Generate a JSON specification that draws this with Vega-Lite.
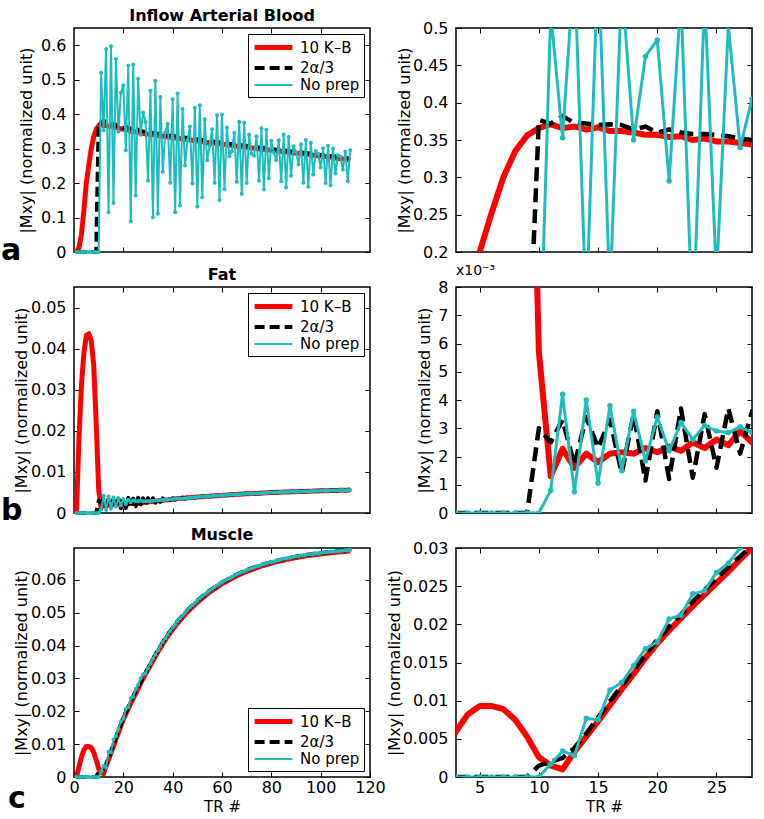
{
"$schema": "https://vega.github.io/schema/vega-lite/v6.json",
"background": "white",
"padding": {"left": 0, "top": 6, "right": 4, "bottom": 2},
"config": {
  "font": "DejaVu Sans",
  "view": {"stroke": "black", "strokeWidth": 1.5},
  "axis": {"grid": false, "domain": false, "ticks": true, "tickSize": -5, "tickColor": "black", "tickWidth": 1, "labelFont": "DejaVu Sans", "labelFontSize": 16, "labelColor": "black", "labelPadding": 13, "labelFlush": false, "labelOverlap": false, "format": "~g", "titleFont": "DejaVu Sans", "titleFontSize": 16, "titleFontWeight": "normal", "titleColor": "black", "titlePadding": 1},
  "title": {"font": "DejaVu Sans", "fontSize": 16, "fontWeight": "bold", "color": "black", "offset": 4, "frame": "group"},
  "legend": {"title": null, "strokeColor": "black", "fillColor": "white", "padding": 4, "offset": 6, "labelFont": "DejaVu Sans", "labelFontSize": 15, "labelColor": "black", "symbolType": "M-2.7,0H2.7", "symbolSize": 196, "symbolOffset": 12, "labelOffset": 17, "rowPadding": 1, "cornerRadius": 0}
},
"datasets": {
"blood": [
{"t":1,"s":"A","v":0},{"t":2,"s":"A","v":0.012},{"t":3,"s":"A","v":0.05},{"t":4,"s":"A","v":0.12},{"t":5,"s":"A","v":0.2},{"t":6,"s":"A","v":0.252},{"t":7,"s":"A","v":0.3},{"t":8,"s":"A","v":0.335},{"t":9,"s":"A","v":0.356},{"t":10,"s":"A","v":0.366},{"t":11,"s":"A","v":0.371},{"t":12,"s":"A","v":0.366},{"t":13,"s":"A","v":0.368},{"t":14,"s":"A","v":0.364},{"t":15,"s":"A","v":0.367},{"t":16,"s":"A","v":0.362},{"t":17,"s":"A","v":0.362},{"t":18,"s":"A","v":0.36},{"t":19,"s":"A","v":0.357},{"t":20,"s":"A","v":0.357},{"t":21,"s":"A","v":0.354},{"t":22,"s":"A","v":0.355},{"t":23,"s":"A","v":0.35},{"t":24,"s":"A","v":0.352},{"t":25,"s":"A","v":0.348},{"t":26,"s":"A","v":0.348},{"t":27,"s":"A","v":0.346},{"t":28,"s":"A","v":0.344},{"t":30,"s":"A","v":0.342},{"t":34,"s":"A","v":0.338},{"t":38,"s":"A","v":0.334},{"t":42,"s":"A","v":0.33},{"t":46,"s":"A","v":0.326},{"t":50,"s":"A","v":0.322},{"t":54,"s":"A","v":0.318},{"t":58,"s":"A","v":0.315},{"t":62,"s":"A","v":0.311},{"t":66,"s":"A","v":0.307},{"t":70,"s":"A","v":0.304},{"t":74,"s":"A","v":0.3},{"t":78,"s":"A","v":0.297},{"t":82,"s":"A","v":0.294},{"t":86,"s":"A","v":0.29},{"t":90,"s":"A","v":0.287},{"t":94,"s":"A","v":0.284},{"t":98,"s":"A","v":0.28},{"t":102,"s":"A","v":0.277},{"t":106,"s":"A","v":0.273},{"t":110,"s":"A","v":0.269},{"t":112,"s":"A","v":0.267},
{"t":1,"s":"B","v":0},{"t":9,"s":"B","v":0},{"t":10,"s":"B","v":0.377},{"t":11,"s":"B","v":0.372},{"t":12,"s":"B","v":0.382},{"t":13,"s":"B","v":0.373},{"t":14,"s":"B","v":0.372},{"t":15,"s":"B","v":0.37},{"t":16,"s":"B","v":0.371},{"t":17,"s":"B","v":0.37},{"t":18,"s":"B","v":0.364},{"t":19,"s":"B","v":0.368},{"t":20,"s":"B","v":0.36},{"t":21,"s":"B","v":0.364},{"t":22,"s":"B","v":0.36},{"t":23,"s":"B","v":0.358},{"t":24,"s":"B","v":0.358},{"t":25,"s":"B","v":0.357},{"t":26,"s":"B","v":0.355},{"t":27,"s":"B","v":0.352},{"t":28,"s":"B","v":0.35},{"t":30,"s":"B","v":0.348},{"t":34,"s":"B","v":0.343},{"t":38,"s":"B","v":0.339},{"t":42,"s":"B","v":0.335},{"t":46,"s":"B","v":0.331},{"t":50,"s":"B","v":0.327},{"t":54,"s":"B","v":0.323},{"t":58,"s":"B","v":0.319},{"t":62,"s":"B","v":0.315},{"t":66,"s":"B","v":0.311},{"t":70,"s":"B","v":0.308},{"t":74,"s":"B","v":0.304},{"t":78,"s":"B","v":0.301},{"t":82,"s":"B","v":0.297},{"t":86,"s":"B","v":0.294},{"t":90,"s":"B","v":0.29},{"t":94,"s":"B","v":0.287},{"t":98,"s":"B","v":0.284},{"t":102,"s":"B","v":0.28},{"t":106,"s":"B","v":0.277},{"t":110,"s":"B","v":0.273},{"t":112,"s":"B","v":0.271},
{"t":1,"s":"C","v":0},{"t":2,"s":"C","v":0},{"t":3,"s":"C","v":0},{"t":4,"s":"C","v":0},{"t":5,"s":"C","v":0},{"t":6,"s":"C","v":0},{"t":7,"s":"C","v":0},{"t":8,"s":"C","v":0},{"t":9,"s":"C","v":0},{"t":10,"s":"C","v":0},
{"t":11,"s":"C","v":0.52},{"t":12,"s":"C","v":0.353},{"t":13,"s":"C","v":0.589},{"t":14,"s":"C","v":0.115},{"t":15,"s":"C","v":0.597},{"t":16,"s":"C","v":0.142},{"t":17,"s":"C","v":0.56},{"t":18,"s":"C","v":0.35},{"t":19,"s":"C","v":0.462},{"t":20,"s":"C","v":0.484},{"t":21,"s":"C","v":0.295},{"t":22,"s":"C","v":0.541},{"t":23,"s":"C","v":0.089},{"t":24,"s":"C","v":0.544},{"t":25,"s":"C","v":0.164},{"t":26,"s":"C","v":0.503},{"t":27,"s":"C","v":0.34},{"t":28,"s":"C","v":0.405},{"t":29,"s":"C","v":0.377},{"t":30,"s":"C","v":0.207},
{"t":31,"s":"C","v":0.468},{"t":32,"s":"C","v":0.101},{"t":33,"s":"C","v":0.497},{"t":34,"s":"C","v":0.111},{"t":35,"s":"C","v":0.45},{"t":36,"s":"C","v":0.233},{"t":37,"s":"C","v":0.347},{"t":38,"s":"C","v":0.372},{"t":39,"s":"C","v":0.201},{"t":40,"s":"C","v":0.443},{"t":41,"s":"C","v":0.115},{"t":42,"s":"C","v":0.46},{"t":43,"s":"C","v":0.135},{"t":44,"s":"C","v":0.415},{"t":45,"s":"C","v":0.251},{"t":46,"s":"C","v":0.324},{"t":47,"s":"C","v":0.364},{"t":48,"s":"C","v":0.199},{"t":49,"s":"C","v":0.418},{"t":50,"s":"C","v":0.132},
{"t":51,"s":"C","v":0.426},{"t":52,"s":"C","v":0.159},{"t":53,"s":"C","v":0.385},{"t":54,"s":"C","v":0.266},{"t":55,"s":"C","v":0.308},{"t":56,"s":"C","v":0.356},{"t":57,"s":"C","v":0.201},{"t":58,"s":"C","v":0.397},{"t":59,"s":"C","v":0.151},{"t":60,"s":"C","v":0.399},{"t":61,"s":"C","v":0.182},{"t":62,"s":"C","v":0.361},{"t":63,"s":"C","v":0.278},{"t":64,"s":"C","v":0.292},{"t":65,"s":"C","v":0.346},{"t":66,"s":"C","v":0.204},{"t":67,"s":"C","v":0.378},{"t":68,"s":"C","v":0.168},{"t":69,"s":"C","v":0.376},{"t":70,"s":"C","v":0.2},
{"t":71,"s":"C","v":0.341},{"t":72,"s":"C","v":0.285},{"t":73,"s":"C","v":0.279},{"t":74,"s":"C","v":0.336},{"t":75,"s":"C","v":0.207},{"t":76,"s":"C","v":0.359},{"t":77,"s":"C","v":0.181},{"t":78,"s":"C","v":0.355},{"t":79,"s":"C","v":0.214},{"t":80,"s":"C","v":0.323},{"t":81,"s":"C","v":0.289},{"t":82,"s":"C","v":0.266},{"t":83,"s":"C","v":0.324},{"t":84,"s":"C","v":0.205},{"t":85,"s":"C","v":0.341},{"t":86,"s":"C","v":0.187},{"t":87,"s":"C","v":0.334},{"t":88,"s":"C","v":0.221},{"t":89,"s":"C","v":0.307},{"t":90,"s":"C","v":0.29},
{"t":91,"s":"C","v":0.254},{"t":92,"s":"C","v":0.313},{"t":93,"s":"C","v":0.201},{"t":94,"s":"C","v":0.325},{"t":95,"s":"C","v":0.189},{"t":96,"s":"C","v":0.317},{"t":97,"s":"C","v":0.225},{"t":98,"s":"C","v":0.293},{"t":99,"s":"C","v":0.284},{"t":100,"s":"C","v":0.245},{"t":101,"s":"C","v":0.301},{"t":102,"s":"C","v":0.2},{"t":103,"s":"C","v":0.308},{"t":104,"s":"C","v":0.194},{"t":105,"s":"C","v":0.3},{"t":106,"s":"C","v":0.228},{"t":107,"s":"C","v":0.281},{"t":108,"s":"C","v":0.277},{"t":109,"s":"C","v":0.239},{"t":110,"s":"C","v":0.291},{"t":111,"s":"C","v":0.205},{"t":112,"s":"C","v":0.295}
],
"fat": [
{"t":1,"s":"A","v":0},{"t":2,"s":"A","v":0.018},{"t":3,"s":"A","v":0.031},{"t":4,"s":"A","v":0.039},{"t":5,"s":"A","v":0.0433},{"t":6,"s":"A","v":0.0437},{"t":7,"s":"A","v":0.042},{"t":8,"s":"A","v":0.036},{"t":9,"s":"A","v":0.022},{"t":10,"s":"A","v":0.0057},{"t":11,"s":"A","v":0.0013},{"t":12,"s":"A","v":0.00227},{"t":13,"s":"A","v":0.0016},{"t":14,"s":"A","v":0.0021},{"t":15,"s":"A","v":0.0018},{"t":16,"s":"A","v":0.0021},{"t":17,"s":"A","v":0.00215},{"t":18,"s":"A","v":0.0021},{"t":19,"s":"A","v":0.0023},{"t":20,"s":"A","v":0.00215},{"t":21,"s":"A","v":0.00235},{"t":22,"s":"A","v":0.0022},{"t":23,"s":"A","v":0.0025},{"t":24,"s":"A","v":0.0023},{"t":25,"s":"A","v":0.0026},{"t":26,"s":"A","v":0.0024},{"t":27,"s":"A","v":0.0029},{"t":28,"s":"A","v":0.0025},{"t":30,"s":"A","v":0.0027},{"t":34,"s":"A","v":0.003},{"t":38,"s":"A","v":0.0032},{"t":42,"s":"A","v":0.0035},{"t":46,"s":"A","v":0.0037},{"t":50,"s":"A","v":0.0039},{"t":55,"s":"A","v":0.0041},{"t":60,"s":"A","v":0.0043},{"t":65,"s":"A","v":0.0045},{"t":70,"s":"A","v":0.0047},{"t":75,"s":"A","v":0.0048},{"t":80,"s":"A","v":0.005},{"t":85,"s":"A","v":0.0051},{"t":90,"s":"A","v":0.0052},{"t":95,"s":"A","v":0.0053},{"t":100,"s":"A","v":0.0054},{"t":106,"s":"A","v":0.0055},{"t":112,"s":"A","v":0.0056},
{"t":1,"s":"B","v":0},{"t":9,"s":"B","v":0},{"t":10,"s":"B","v":0.003},{"t":11,"s":"B","v":0.0025},{"t":12,"s":"B","v":0.0033},{"t":13,"s":"B","v":0.0017},{"t":14,"s":"B","v":0.0034},{"t":15,"s":"B","v":0.0023},{"t":16,"s":"B","v":0.0033},{"t":17,"s":"B","v":0.0014},{"t":18,"s":"B","v":0.0035},{"t":19,"s":"B","v":0.00115},{"t":20,"s":"B","v":0.0036},{"t":21,"s":"B","v":0.0012},{"t":22,"s":"B","v":0.0037},{"t":23,"s":"B","v":0.00125},{"t":24,"s":"B","v":0.0035},{"t":25,"s":"B","v":0.0016},{"t":26,"s":"B","v":0.0037},{"t":27,"s":"B","v":0.0021},{"t":28,"s":"B","v":0.0036},{"t":29,"s":"B","v":0.00205},{"t":30,"s":"B","v":0.0036},{"t":31,"s":"B","v":0.00224},{"t":32,"s":"B","v":0.00358},{"t":33,"s":"B","v":0.00252},{"t":34,"s":"B","v":0.00356},{"t":35,"s":"B","v":0.0027},{"t":36,"s":"B","v":0.00356},{"t":37,"s":"B","v":0.00292},{"t":38,"s":"B","v":0.00358},{"t":39,"s":"B","v":0.00314},{"t":40,"s":"B","v":0.0036},{"t":41,"s":"B","v":0.00324},{"t":42,"s":"B","v":0.00368},{"t":43,"s":"B","v":0.00332},{"t":44,"s":"B","v":0.00376},{"t":45,"s":"B","v":0.0035},{"t":46,"s":"B","v":0.00376},{"t":47,"s":"B","v":0.00362},{"t":48,"s":"B","v":0.00388},{"t":49,"s":"B","v":0.00374},{"t":50,"s":"B","v":0.0039},{"t":55,"s":"B","v":0.0041},{"t":60,"s":"B","v":0.0043},{"t":65,"s":"B","v":0.0045},{"t":70,"s":"B","v":0.0047},{"t":75,"s":"B","v":0.0048},{"t":80,"s":"B","v":0.005},{"t":85,"s":"B","v":0.0051},{"t":90,"s":"B","v":0.0052},{"t":95,"s":"B","v":0.0053},{"t":100,"s":"B","v":0.0054},{"t":106,"s":"B","v":0.0055},{"t":112,"s":"B","v":0.0056},
{"t":1,"s":"C","v":0},{"t":2,"s":"C","v":0},{"t":3,"s":"C","v":0},{"t":4,"s":"C","v":0},{"t":5,"s":"C","v":0},{"t":6,"s":"C","v":0},{"t":7,"s":"C","v":0},{"t":8,"s":"C","v":0},{"t":9,"s":"C","v":0},{"t":10,"s":"C","v":0},
{"t":11,"s":"C","v":0.0008},{"t":12,"s":"C","v":0.0042},{"t":13,"s":"C","v":0.00075},{"t":14,"s":"C","v":0.004},{"t":15,"s":"C","v":0.00105},{"t":16,"s":"C","v":0.0038},{"t":17,"s":"C","v":0.0015},{"t":18,"s":"C","v":0.0036},{"t":19,"s":"C","v":0.00185},{"t":20,"s":"C","v":0.0034},{"t":21,"s":"C","v":0.0022},{"t":22,"s":"C","v":0.0032},{"t":23,"s":"C","v":0.0026},{"t":24,"s":"C","v":0.0031},{"t":25,"s":"C","v":0.0029},{"t":26,"s":"C","v":0.00285},{"t":27,"s":"C","v":0.00305},{"t":28,"s":"C","v":0.00285},
{"t":29,"s":"C","v":0.00285},{"t":30,"s":"C","v":0.0029},{"t":31,"s":"C","v":0.00294},{"t":32,"s":"C","v":0.00298},{"t":33,"s":"C","v":0.00302},{"t":34,"s":"C","v":0.00306},{"t":35,"s":"C","v":0.0031},{"t":36,"s":"C","v":0.00316},{"t":37,"s":"C","v":0.00322},{"t":38,"s":"C","v":0.00328},{"t":39,"s":"C","v":0.00334},{"t":40,"s":"C","v":0.0034},{"t":41,"s":"C","v":0.00344},{"t":42,"s":"C","v":0.00348},{"t":43,"s":"C","v":0.00352},{"t":44,"s":"C","v":0.00356},{"t":45,"s":"C","v":0.0036},{"t":46,"s":"C","v":0.00366},{"t":47,"s":"C","v":0.00372},{"t":48,"s":"C","v":0.00378},{"t":49,"s":"C","v":0.00384},{"t":50,"s":"C","v":0.0039},
{"t":51,"s":"C","v":0.00394},{"t":52,"s":"C","v":0.00398},{"t":53,"s":"C","v":0.00402},{"t":54,"s":"C","v":0.00406},{"t":55,"s":"C","v":0.0041},{"t":56,"s":"C","v":0.00414},{"t":57,"s":"C","v":0.00418},{"t":58,"s":"C","v":0.00422},{"t":59,"s":"C","v":0.00426},{"t":60,"s":"C","v":0.0043},{"t":61,"s":"C","v":0.00434},{"t":62,"s":"C","v":0.00438},{"t":63,"s":"C","v":0.00442},{"t":64,"s":"C","v":0.00446},{"t":65,"s":"C","v":0.0045},{"t":66,"s":"C","v":0.00454},{"t":67,"s":"C","v":0.00458},{"t":68,"s":"C","v":0.00462},{"t":69,"s":"C","v":0.00466},{"t":70,"s":"C","v":0.0047},
{"t":71,"s":"C","v":0.00472},{"t":72,"s":"C","v":0.00474},{"t":73,"s":"C","v":0.00476},{"t":74,"s":"C","v":0.00478},{"t":75,"s":"C","v":0.0048},{"t":76,"s":"C","v":0.00484},{"t":77,"s":"C","v":0.00488},{"t":78,"s":"C","v":0.00492},{"t":79,"s":"C","v":0.00496},{"t":80,"s":"C","v":0.005},{"t":81,"s":"C","v":0.00502},{"t":82,"s":"C","v":0.00504},{"t":83,"s":"C","v":0.00506},{"t":84,"s":"C","v":0.00508},{"t":85,"s":"C","v":0.0051},{"t":86,"s":"C","v":0.00512},{"t":87,"s":"C","v":0.00514},{"t":88,"s":"C","v":0.00516},{"t":89,"s":"C","v":0.00518},{"t":90,"s":"C","v":0.0052},
{"t":91,"s":"C","v":0.00522},{"t":92,"s":"C","v":0.00524},{"t":93,"s":"C","v":0.00526},{"t":94,"s":"C","v":0.00528},{"t":95,"s":"C","v":0.0053},{"t":96,"s":"C","v":0.00532},{"t":97,"s":"C","v":0.00534},{"t":98,"s":"C","v":0.00536},{"t":99,"s":"C","v":0.00538},{"t":100,"s":"C","v":0.0054},{"t":101,"s":"C","v":0.00542},{"t":102,"s":"C","v":0.00543},{"t":103,"s":"C","v":0.00545},{"t":104,"s":"C","v":0.00547},{"t":105,"s":"C","v":0.00548},{"t":106,"s":"C","v":0.0055},{"t":107,"s":"C","v":0.00552},{"t":108,"s":"C","v":0.00553},{"t":109,"s":"C","v":0.00555},{"t":110,"s":"C","v":0.00557},{"t":111,"s":"C","v":0.00558},{"t":112,"s":"C","v":0.0056}
],
"muscle": [
{"t":1,"s":"A","v":0},{"t":2,"s":"A","v":0.003},{"t":3,"s":"A","v":0.006},{"t":4,"s":"A","v":0.0082},{"t":5,"s":"A","v":0.0093},{"t":6,"s":"A","v":0.0093},{"t":7,"s":"A","v":0.0089},{"t":8,"s":"A","v":0.0075},{"t":9,"s":"A","v":0.0053},{"t":10,"s":"A","v":0.0026},{"t":11,"s":"A","v":0.0015},{"t":12,"s":"A","v":0.001},{"t":13,"s":"A","v":0.0033},{"t":14,"s":"A","v":0.0053},{"t":15,"s":"A","v":0.0073},{"t":16,"s":"A","v":0.0094},{"t":17,"s":"A","v":0.0115},{"t":18,"s":"A","v":0.0135},{"t":19,"s":"A","v":0.0156},{"t":20,"s":"A","v":0.0175},{"t":21,"s":"A","v":0.0192},{"t":22,"s":"A","v":0.0208},{"t":23,"s":"A","v":0.0224},{"t":24,"s":"A","v":0.0239},{"t":25,"s":"A","v":0.0254},{"t":26,"s":"A","v":0.0269},{"t":27,"s":"A","v":0.0285},{"t":28,"s":"A","v":0.03},{"t":30,"s":"A","v":0.0327},{"t":34,"s":"A","v":0.0381},{"t":38,"s":"A","v":0.0429},{"t":42,"s":"A","v":0.0469},{"t":46,"s":"A","v":0.0503},{"t":50,"s":"A","v":0.0532},{"t":55,"s":"A","v":0.0563},{"t":60,"s":"A","v":0.0588},{"t":65,"s":"A","v":0.0609},{"t":70,"s":"A","v":0.0626},{"t":76,"s":"A","v":0.0642},{"t":82,"s":"A","v":0.0655},{"t":88,"s":"A","v":0.0665},{"t":94,"s":"A","v":0.0673},{"t":100,"s":"A","v":0.0679},{"t":106,"s":"A","v":0.0684},{"t":112,"s":"A","v":0.0688},
{"t":1,"s":"B","v":0},{"t":9,"s":"B","v":0},{"t":10,"s":"B","v":0.0015},{"t":11,"s":"B","v":0.002},{"t":12,"s":"B","v":0.0025},{"t":13,"s":"B","v":0.0038},{"t":14,"s":"B","v":0.0057},{"t":15,"s":"B","v":0.0078},{"t":16,"s":"B","v":0.0099},{"t":17,"s":"B","v":0.012},{"t":18,"s":"B","v":0.014},{"t":19,"s":"B","v":0.016},{"t":20,"s":"B","v":0.018},{"t":21,"s":"B","v":0.0197},{"t":22,"s":"B","v":0.0213},{"t":23,"s":"B","v":0.023},{"t":24,"s":"B","v":0.0245},{"t":25,"s":"B","v":0.026},{"t":26,"s":"B","v":0.0275},{"t":27,"s":"B","v":0.0289},{"t":28,"s":"B","v":0.0303},{"t":30,"s":"B","v":0.0331},{"t":34,"s":"B","v":0.0386},{"t":38,"s":"B","v":0.0434},{"t":42,"s":"B","v":0.0474},{"t":46,"s":"B","v":0.0508},{"t":50,"s":"B","v":0.0537},{"t":55,"s":"B","v":0.0568},{"t":60,"s":"B","v":0.0592},{"t":65,"s":"B","v":0.0613},{"t":70,"s":"B","v":0.063},{"t":76,"s":"B","v":0.0646},{"t":82,"s":"B","v":0.0658},{"t":88,"s":"B","v":0.0668},{"t":94,"s":"B","v":0.0676},{"t":100,"s":"B","v":0.0682},{"t":106,"s":"B","v":0.0687},{"t":112,"s":"B","v":0.0691},
{"t":1,"s":"C","v":0},{"t":2,"s":"C","v":0},{"t":3,"s":"C","v":0},{"t":4,"s":"C","v":0},{"t":5,"s":"C","v":0},{"t":6,"s":"C","v":0},{"t":7,"s":"C","v":0},{"t":8,"s":"C","v":0},{"t":9,"s":"C","v":0},{"t":10,"s":"C","v":0},
{"t":11,"s":"C","v":0.0017},{"t":12,"s":"C","v":0.0034},{"t":13,"s":"C","v":0.0028},{"t":14,"s":"C","v":0.0077},{"t":15,"s":"C","v":0.0075},{"t":16,"s":"C","v":0.0114},{"t":17,"s":"C","v":0.0124},{"t":18,"s":"C","v":0.0146},{"t":19,"s":"C","v":0.0168},{"t":20,"s":"C","v":0.0177},{"t":21,"s":"C","v":0.0207},{"t":22,"s":"C","v":0.0212},{"t":23,"s":"C","v":0.024},{"t":24,"s":"C","v":0.0244},{"t":25,"s":"C","v":0.0268},{"t":26,"s":"C","v":0.028},{"t":27,"s":"C","v":0.03},{"t":28,"s":"C","v":0.0312},
{"t":29,"s":"C","v":0.0316},{"t":30,"s":"C","v":0.0331},{"t":31,"s":"C","v":0.0346},{"t":32,"s":"C","v":0.036},{"t":33,"s":"C","v":0.0373},{"t":34,"s":"C","v":0.0386},{"t":35,"s":"C","v":0.0399},{"t":36,"s":"C","v":0.0411},{"t":37,"s":"C","v":0.0422},{"t":38,"s":"C","v":0.0434},{"t":39,"s":"C","v":0.0444},{"t":40,"s":"C","v":0.0454},{"t":41,"s":"C","v":0.0464},{"t":42,"s":"C","v":0.0474},{"t":43,"s":"C","v":0.0483},{"t":44,"s":"C","v":0.0491},{"t":45,"s":"C","v":0.05},{"t":46,"s":"C","v":0.0508},{"t":47,"s":"C","v":0.0516},{"t":48,"s":"C","v":0.0523},{"t":49,"s":"C","v":0.053},{"t":50,"s":"C","v":0.0537},
{"t":51,"s":"C","v":0.0544},{"t":52,"s":"C","v":0.055},{"t":53,"s":"C","v":0.0556},{"t":54,"s":"C","v":0.0562},{"t":55,"s":"C","v":0.0568},{"t":56,"s":"C","v":0.0573},{"t":57,"s":"C","v":0.0578},{"t":58,"s":"C","v":0.0583},{"t":59,"s":"C","v":0.0588},{"t":60,"s":"C","v":0.0592},{"t":61,"s":"C","v":0.0597},{"t":62,"s":"C","v":0.0601},{"t":63,"s":"C","v":0.0605},{"t":64,"s":"C","v":0.0609},{"t":65,"s":"C","v":0.0613},{"t":66,"s":"C","v":0.0616},{"t":67,"s":"C","v":0.062},{"t":68,"s":"C","v":0.0623},{"t":69,"s":"C","v":0.0626},{"t":70,"s":"C","v":0.063},
{"t":71,"s":"C","v":0.0632},{"t":72,"s":"C","v":0.0635},{"t":73,"s":"C","v":0.0638},{"t":74,"s":"C","v":0.0641},{"t":75,"s":"C","v":0.0643},{"t":76,"s":"C","v":0.0646},{"t":77,"s":"C","v":0.0648},{"t":78,"s":"C","v":0.065},{"t":79,"s":"C","v":0.0652},{"t":80,"s":"C","v":0.0654},{"t":81,"s":"C","v":0.0656},{"t":82,"s":"C","v":0.0658},{"t":83,"s":"C","v":0.066},{"t":84,"s":"C","v":0.0662},{"t":85,"s":"C","v":0.0664},{"t":86,"s":"C","v":0.0665},{"t":87,"s":"C","v":0.0667},{"t":88,"s":"C","v":0.0668},{"t":89,"s":"C","v":0.067},{"t":90,"s":"C","v":0.0671},
{"t":91,"s":"C","v":0.0672},{"t":92,"s":"C","v":0.0674},{"t":93,"s":"C","v":0.0675},{"t":94,"s":"C","v":0.0676},{"t":95,"s":"C","v":0.0677},{"t":96,"s":"C","v":0.0678},{"t":97,"s":"C","v":0.0679},{"t":98,"s":"C","v":0.068},{"t":99,"s":"C","v":0.0681},{"t":100,"s":"C","v":0.0682},{"t":101,"s":"C","v":0.0683},{"t":102,"s":"C","v":0.0684},{"t":103,"s":"C","v":0.0685},{"t":104,"s":"C","v":0.0686},{"t":105,"s":"C","v":0.0686},{"t":106,"s":"C","v":0.0687},{"t":107,"s":"C","v":0.0688},{"t":108,"s":"C","v":0.0688},{"t":109,"s":"C","v":0.0689},{"t":110,"s":"C","v":0.069},{"t":111,"s":"C","v":0.069},{"t":112,"s":"C","v":0.0691}
]
},
"columns": 2,
"spacing": {"row": 35, "column": 86},
"bounds": "flush",
"align": "each",
"resolve": {"scale": {"color": "independent", "strokeDash": "independent", "strokeWidth": "independent"}, "legend": {"color": "independent", "strokeDash": "independent", "strokeWidth": "independent"}},
"concat": [
{
 "width": 296, "height": 224,
 "data": {"name": "blood"},
 "title": {"text": "Inflow Arterial Blood"},
 "resolve": {"axis": {"x": "independent", "y": "independent"}},
 "layer": [
  {"mark": {"type": "line", "strokeJoin": "round"},
   "encoding": {
    "x": {"field": "t", "type": "quantitative", "scale": {"domain": [0, 120], "nice": false, "zero": false}, "axis": {"orient": "bottom", "values": [20,40,60,80,100], "labels": false, "title": null}},
    "y": {"field": "v", "type": "quantitative", "scale": {"domain": [0, 0.65], "nice": false}, "axis": {"orient": "left", "values": [0,0.1,0.2,0.3,0.4,0.5,0.6], "title": "|Mxy| (normalized unit)", "titlePadding": 6}},
    "color": {"field": "s", "type": "nominal", "scale": {"domain": ["A","B","C"], "range": ["#ff0000","#000000","#1fbcbc"]}, "legend": {"orient": "top-right", "labelExpr": "datum.label == 'A' ? '10 K–B' : datum.label == 'B' ? '2α/3' : 'No prep'"}},
    "strokeDash": {"field": "s", "type": "nominal", "scale": {"domain": ["A","B","C"], "range": [[1,0],[10,5],[1,0]]}, "legend": {"orient": "top-right", "labelExpr": "datum.label == 'A' ? '10 K–B' : datum.label == 'B' ? '2α/3' : 'No prep'"}},
    "strokeWidth": {"field": "s", "type": "nominal", "scale": {"type": "ordinal", "domain": ["A","B","C"], "range": [5,4,2]}, "legend": {"orient": "top-right", "labelExpr": "datum.label == 'A' ? '10 K–B' : datum.label == 'B' ? '2α/3' : 'No prep'"}}
   }},
  {"transform": [{"filter": "datum.s == 'C'"}], "mark": {"type": "point", "filled": true, "size": 16, "color": "#1fbcbc", "opacity": 1},
   "encoding": {"x": {"field": "t", "type": "quantitative", "axis": null}, "y": {"field": "v", "type": "quantitative", "axis": null}}},
  {"mark": {"type": "point", "opacity": 0},
   "encoding": {"x": {"field": "t", "type": "quantitative", "axis": {"orient": "top", "values": [20,40,60,80,100], "labels": false, "title": null}}, "y": {"field": "v", "type": "quantitative", "axis": {"orient": "right", "values": [0,0.1,0.2,0.3,0.4,0.5,0.6], "labels": false, "title": null}}}},
  {"data": {"values": [{"t": 0, "v": 0, "lab": "a"}]}, "mark": {"type": "text", "align": "left", "baseline": "alphabetic", "dx": -73, "dy": 8, "fontSize": 30, "fontWeight": "bold", "font": "DejaVu Sans", "color": "black"},
   "encoding": {"x": {"field": "t", "type": "quantitative", "axis": null}, "y": {"field": "v", "type": "quantitative", "axis": null}, "text": {"field": "lab"}}}
 ]
},
{
 "width": 296, "height": 224,
 "data": {"name": "blood"},
 "resolve": {"axis": {"x": "independent", "y": "independent"}},
 "layer": [
  {"mark": {"type": "line", "strokeJoin": "round", "clip": true},
   "encoding": {
    "x": {"field": "t", "type": "quantitative", "scale": {"domain": [3, 28], "nice": false, "zero": false}, "axis": {"orient": "bottom", "values": [5,10,15,20,25], "labels": false, "title": null}},
    "y": {"field": "v", "type": "quantitative", "scale": {"domain": [0.2, 0.5], "nice": false, "zero": false}, "axis": {"orient": "left", "values": [0.2,0.25,0.3,0.35,0.4,0.45,0.5], "title": "|Mxy| (normalized unit)", "titlePadding": 0}},
    "color": {"field": "s", "type": "nominal", "scale": {"domain": ["A","B","C"], "range": ["#ff0000","#000000","#1fbcbc"]}, "legend": null},
    "strokeDash": {"field": "s", "type": "nominal", "scale": {"domain": ["A","B","C"], "range": [[1,0],[14,7],[1,0]]}, "legend": null},
    "strokeWidth": {"field": "s", "type": "nominal", "scale": {"type": "ordinal", "domain": ["A","B","C"], "range": [6,4.5,3]}, "legend": null}
   }},
  {"transform": [{"filter": "datum.s == 'C'"}], "mark": {"type": "point", "filled": true, "size": 30, "color": "#1fbcbc", "opacity": 1, "clip": true},
   "encoding": {"x": {"field": "t", "type": "quantitative", "axis": null}, "y": {"field": "v", "type": "quantitative", "axis": null}}},
  {"mark": {"type": "point", "opacity": 0, "clip": true},
   "encoding": {"x": {"field": "t", "type": "quantitative", "axis": {"orient": "top", "values": [5,10,15,20,25], "labels": false, "title": null}}, "y": {"field": "v", "type": "quantitative", "axis": {"orient": "right", "values": [0.2,0.25,0.3,0.35,0.4,0.45,0.5], "labels": false, "title": null}}}}
 ]
},
{
 "width": 296, "height": 226,
 "data": {"name": "fat"},
 "title": {"text": "Fat"},
 "resolve": {"axis": {"x": "independent", "y": "independent"}},
 "layer": [
  {"mark": {"type": "line", "strokeJoin": "round"},
   "encoding": {
    "x": {"field": "t", "type": "quantitative", "scale": {"domain": [0, 120], "nice": false, "zero": false}, "axis": {"orient": "bottom", "values": [20,40,60,80,100], "labels": false, "title": null}},
    "y": {"field": "v", "type": "quantitative", "scale": {"domain": [0, 0.0551], "nice": false}, "axis": {"orient": "left", "values": [0,0.01,0.02,0.03,0.04,0.05], "title": "|Mxy| (normalized unit)", "titlePadding": 1}},
    "color": {"field": "s", "type": "nominal", "scale": {"domain": ["A","B","C"], "range": ["#ff0000","#000000","#1fbcbc"]}, "legend": {"orient": "top-right", "labelExpr": "datum.label == 'A' ? '10 K–B' : datum.label == 'B' ? '2α/3' : 'No prep'"}},
    "strokeDash": {"field": "s", "type": "nominal", "scale": {"domain": ["A","B","C"], "range": [[1,0],[10,5],[1,0]]}, "legend": {"orient": "top-right", "labelExpr": "datum.label == 'A' ? '10 K–B' : datum.label == 'B' ? '2α/3' : 'No prep'"}},
    "strokeWidth": {"field": "s", "type": "nominal", "scale": {"type": "ordinal", "domain": ["A","B","C"], "range": [5,4,2]}, "legend": {"orient": "top-right", "labelExpr": "datum.label == 'A' ? '10 K–B' : datum.label == 'B' ? '2α/3' : 'No prep'"}}
   }},
  {"transform": [{"filter": "datum.s == 'C'"}], "mark": {"type": "point", "filled": true, "size": 16, "color": "#1fbcbc", "opacity": 1},
   "encoding": {"x": {"field": "t", "type": "quantitative", "axis": null}, "y": {"field": "v", "type": "quantitative", "axis": null}}},
  {"mark": {"type": "point", "opacity": 0},
   "encoding": {"x": {"field": "t", "type": "quantitative", "axis": {"orient": "top", "values": [20,40,60,80,100], "labels": false, "title": null}}, "y": {"field": "v", "type": "quantitative", "axis": {"orient": "right", "values": [0,0.01,0.02,0.03,0.04,0.05], "labels": false, "title": null}}}},
  {"data": {"values": [{"t": 0, "v": 0, "lab": "b"}]}, "mark": {"type": "text", "align": "left", "baseline": "alphabetic", "dx": -73, "dy": 7, "fontSize": 30, "fontWeight": "bold", "font": "DejaVu Sans", "color": "black"},
   "encoding": {"x": {"field": "t", "type": "quantitative", "axis": null}, "y": {"field": "v", "type": "quantitative", "axis": null}, "text": {"field": "lab"}}}
 ]
},
{
 "width": 296, "height": 226,
 "data": {"name": "fat"},
 "title": {"text": "x10⁻³", "anchor": "start", "fontSize": 14, "fontWeight": "normal", "offset": 1},
 "resolve": {"axis": {"x": "independent", "y": "independent"}},
 "layer": [
  {"mark": {"type": "line", "strokeJoin": "round", "clip": true},
   "encoding": {
    "x": {"field": "t", "type": "quantitative", "scale": {"domain": [3, 28], "nice": false, "zero": false}, "axis": {"orient": "bottom", "values": [5,10,15,20,25], "labels": false, "title": null}},
    "y": {"field": "v", "type": "quantitative", "scale": {"domain": [0, 0.008], "nice": false}, "axis": {"orient": "left", "values": [0,0.001,0.002,0.003,0.004,0.005,0.006,0.007,0.008], "labelExpr": "format(datum.value*1000, '~g')", "title": "|Mxy| (normalized unit)", "titlePadding": 5}},
    "color": {"field": "s", "type": "nominal", "scale": {"domain": ["A","B","C"], "range": ["#ff0000","#000000","#1fbcbc"]}, "legend": null},
    "strokeDash": {"field": "s", "type": "nominal", "scale": {"domain": ["A","B","C"], "range": [[1,0],[14,7],[1,0]]}, "legend": null},
    "strokeWidth": {"field": "s", "type": "nominal", "scale": {"type": "ordinal", "domain": ["A","B","C"], "range": [6,4.5,3]}, "legend": null}
   }},
  {"transform": [{"filter": "datum.s == 'C'"}], "mark": {"type": "point", "filled": true, "size": 30, "color": "#1fbcbc", "opacity": 1, "clip": true},
   "encoding": {"x": {"field": "t", "type": "quantitative", "axis": null}, "y": {"field": "v", "type": "quantitative", "axis": null}}},
  {"mark": {"type": "point", "opacity": 0, "clip": true},
   "encoding": {"x": {"field": "t", "type": "quantitative", "axis": {"orient": "top", "values": [5,10,15,20,25], "labels": false, "title": null}}, "y": {"field": "v", "type": "quantitative", "axis": {"orient": "right", "values": [0,0.001,0.002,0.003,0.004,0.005,0.006,0.007,0.008], "labels": false, "title": null}}}}
 ]
},
{
 "width": 296, "height": 229,
 "data": {"name": "muscle"},
 "title": {"text": "Muscle"},
 "resolve": {"axis": {"x": "independent", "y": "independent"}},
 "layer": [
  {"mark": {"type": "line", "strokeJoin": "round"},
   "encoding": {
    "x": {"field": "t", "type": "quantitative", "scale": {"domain": [0, 120], "nice": false, "zero": false}, "axis": {"orient": "bottom", "values": [0,20,40,60,80,100,120], "format": "d", "title": "TR #", "titleFontSize": 15, "titlePadding": 4, "labelPadding": 7}},
    "y": {"field": "v", "type": "quantitative", "scale": {"domain": [0, 0.0697], "nice": false}, "axis": {"orient": "left", "values": [0,0.01,0.02,0.03,0.04,0.05,0.06], "title": "|Mxy| (normalized unit)", "titlePadding": 1}},
    "color": {"field": "s", "type": "nominal", "scale": {"domain": ["A","B","C"], "range": ["#ff0000","#000000","#1fbcbc"]}, "legend": {"orient": "bottom-right", "labelExpr": "datum.label == 'A' ? '10 K–B' : datum.label == 'B' ? '2α/3' : 'No prep'"}},
    "strokeDash": {"field": "s", "type": "nominal", "scale": {"domain": ["A","B","C"], "range": [[1,0],[10,5],[1,0]]}, "legend": {"orient": "bottom-right", "labelExpr": "datum.label == 'A' ? '10 K–B' : datum.label == 'B' ? '2α/3' : 'No prep'"}},
    "strokeWidth": {"field": "s", "type": "nominal", "scale": {"type": "ordinal", "domain": ["A","B","C"], "range": [5,4,2]}, "legend": {"orient": "bottom-right", "labelExpr": "datum.label == 'A' ? '10 K–B' : datum.label == 'B' ? '2α/3' : 'No prep'"}}
   }},
  {"transform": [{"filter": "datum.s == 'C'"}], "mark": {"type": "point", "filled": true, "size": 16, "color": "#1fbcbc", "opacity": 1},
   "encoding": {"x": {"field": "t", "type": "quantitative", "axis": null}, "y": {"field": "v", "type": "quantitative", "axis": null}}},
  {"mark": {"type": "point", "opacity": 0},
   "encoding": {"x": {"field": "t", "type": "quantitative", "axis": {"orient": "top", "values": [20,40,60,80,100], "labels": false, "title": null}}, "y": {"field": "v", "type": "quantitative", "axis": {"orient": "right", "values": [0,0.01,0.02,0.03,0.04,0.05,0.06], "labels": false, "title": null}}}},
  {"data": {"values": [{"t": 0, "v": 0, "lab": "c"}]}, "mark": {"type": "text", "align": "left", "baseline": "alphabetic", "dx": -66, "dy": 31, "fontSize": 30, "fontWeight": "bold", "font": "DejaVu Sans", "color": "black"},
   "encoding": {"x": {"field": "t", "type": "quantitative", "axis": null}, "y": {"field": "v", "type": "quantitative", "axis": null}, "text": {"field": "lab"}}}
 ]
},
{
 "width": 296, "height": 229,
 "data": {"name": "muscle"},
 "resolve": {"axis": {"x": "independent", "y": "independent"}},
 "layer": [
  {"mark": {"type": "line", "strokeJoin": "round", "clip": true},
   "encoding": {
    "x": {"field": "t", "type": "quantitative", "scale": {"domain": [3, 28], "nice": false, "zero": false}, "axis": {"orient": "bottom", "values": [5,10,15,20,25], "format": "d", "title": "TR #", "titleFontSize": 15, "titlePadding": 4, "labelPadding": 7}},
    "y": {"field": "v", "type": "quantitative", "scale": {"domain": [0, 0.03], "nice": false}, "axis": {"orient": "left", "values": [0,0.005,0.01,0.015,0.02,0.025,0.03], "title": "|Mxy| (normalized unit)", "titlePadding": 0}},
    "color": {"field": "s", "type": "nominal", "scale": {"domain": ["A","B","C"], "range": ["#ff0000","#000000","#1fbcbc"]}, "legend": null},
    "strokeDash": {"field": "s", "type": "nominal", "scale": {"domain": ["A","B","C"], "range": [[1,0],[14,7],[1,0]]}, "legend": null},
    "strokeWidth": {"field": "s", "type": "nominal", "scale": {"type": "ordinal", "domain": ["A","B","C"], "range": [6,4.5,3]}, "legend": null}
   }},
  {"transform": [{"filter": "datum.s == 'C'"}], "mark": {"type": "point", "filled": true, "size": 30, "color": "#1fbcbc", "opacity": 1, "clip": true},
   "encoding": {"x": {"field": "t", "type": "quantitative", "axis": null}, "y": {"field": "v", "type": "quantitative", "axis": null}}},
  {"mark": {"type": "point", "opacity": 0, "clip": true},
   "encoding": {"x": {"field": "t", "type": "quantitative", "axis": {"orient": "top", "values": [5,10,15,20,25], "labels": false, "title": null}}, "y": {"field": "v", "type": "quantitative", "axis": {"orient": "right", "values": [0,0.005,0.01,0.015,0.02,0.025,0.03], "labels": false, "title": null}}}}
 ]
}
]
}
